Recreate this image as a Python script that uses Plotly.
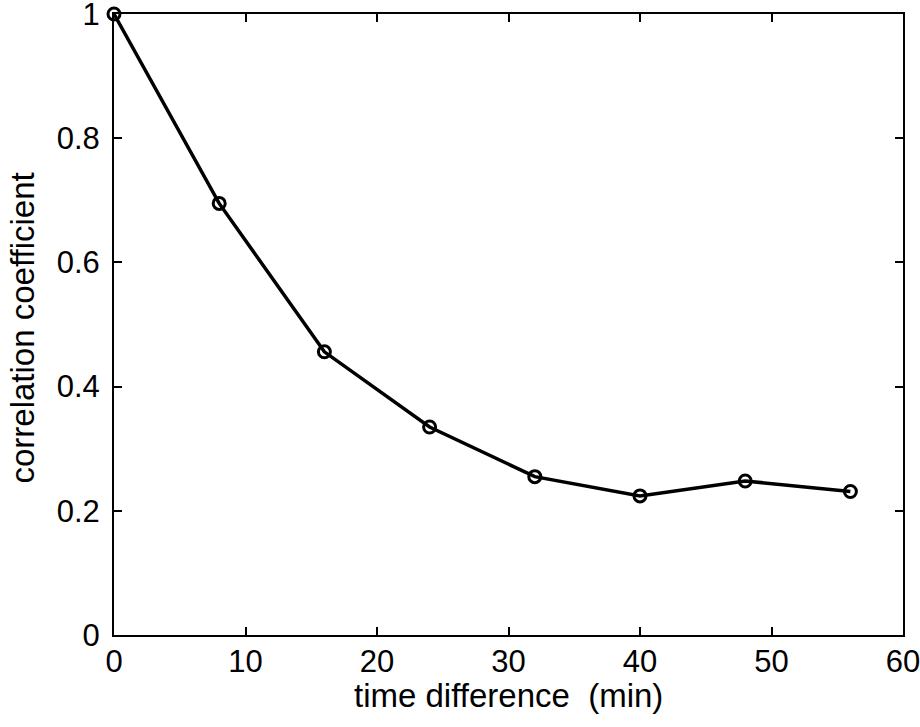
import plotly.graph_objects as go

# time difference (min) vs correlation coefficient
time_diff = [0, 8, 16, 24, 32, 40, 48, 56]
corr_coef = [1.0, 0.695, 0.456, 0.335, 0.255, 0.224, 0.248, 0.231]

x_ticks = [0, 10, 20, 30, 40, 50, 60]
y_ticks = [0, 0.2, 0.4, 0.6, 0.8, 1]
y_labels = ['0', '0.2', '0.4', '0.6', '0.8', '1']

FONT = 'Liberation Sans, Arial, sans-serif'

fig = go.Figure()
fig.add_trace(go.Scatter(x=time_diff, y=corr_coef,
                         mode='lines+markers',
                         line=dict(color='black', width=3.5),
                         marker=dict(symbol='circle-open', size=12,
                                     color='black', line=dict(width=3)),
                         cliponaxis=False,
                         showlegend=False))

axis_style = dict(showline=True, linecolor='black', linewidth=2, mirror='ticks',
                  ticks='inside', ticklen=8, tickwidth=1.5, tickcolor='black',
                  showgrid=False, zeroline=False, automargin=False,
                  ticklabeloverflow='allow',
                  tickfont=dict(family=FONT, size=31, color='black'))

fig.update_xaxes(range=[0, 60], tickvals=x_ticks, ticklabelstandoff=-2, **axis_style)
fig.update_yaxes(range=[0, 1], tickvals=y_ticks, ticktext=y_labels,
                 ticklabelstandoff=6, **axis_style)

# axis titles placed as annotations for exact positioning
fig.add_annotation(text='time difference  (min)', xref='paper', yref='paper',
                   x=0.5, y=0, xanchor='center', yanchor='middle', yshift=-60,
                   showarrow=False, font=dict(family=FONT, size=33, color='black'))
fig.add_annotation(text='correlation coefficient', xref='paper', yref='paper',
                   x=0, y=0.5, xanchor='center', yanchor='middle', xshift=-92, yshift=-4,
                   textangle=-90, showarrow=False,
                   font=dict(family=FONT, size=33, color='black'))

fig.update_layout(width=920, height=727,
                  margin=dict(l=114, r=17, t=14, b=92),
                  paper_bgcolor='white', plot_bgcolor='white')

fig.write_html("out.html", config={'displayModeBar': False},
               post_script="document.body.style.margin='0';")
